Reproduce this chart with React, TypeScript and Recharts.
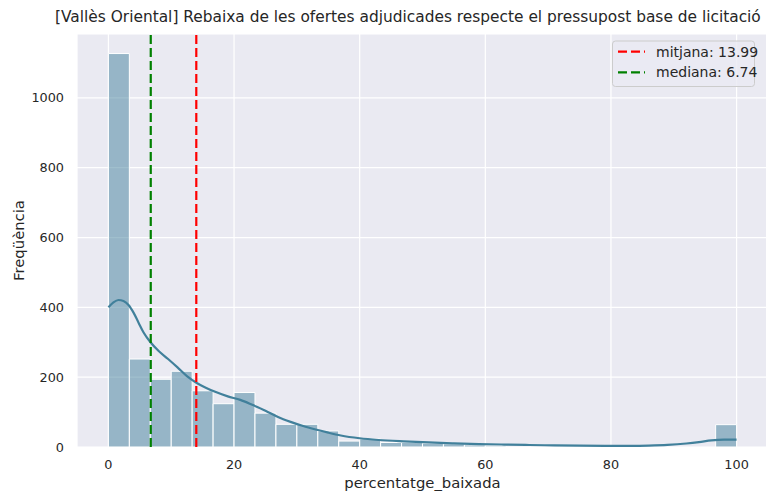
import React from "react";
import {
  ComposedChart,
  XAxis,
  YAxis,
  CartesianGrid,
  Line,
  ReferenceArea,
  ReferenceLine,
  Label,
} from "recharts";

// Histogram bin edges (30 bins over 0..100)
const binEdges = [
  0, 3.333, 6.667, 10, 13.333, 16.667, 20, 23.333, 26.667, 30, 33.333, 36.667,
  40, 43.333, 46.667, 50, 53.333, 56.667, 60, 63.333, 66.667, 70, 73.333,
  76.667, 80, 83.333, 86.667, 90, 93.333, 96.667, 100,
];
// Counts per bin
const binCounts = [
  1127, 252, 194, 217, 161, 124, 156, 97, 65, 65, 46, 17, 23, 13, 13, 11, 9,
  6, 3, 0, 0, 0, 0, 0, 0, 0, 0, 0, 0, 64,
];

// KDE curve (scaled to counts)
const kdeX = [
  0, 0.8, 1.6, 2.4, 3.2, 4, 4.8, 5.6, 6.7, 8, 9.5, 11, 12.5, 14, 15.5, 17, 19,
  21, 23, 25, 27, 29, 31, 33, 35, 37, 40, 43, 47, 51, 55, 59, 63, 67, 71, 75,
  79, 83, 86, 89, 92, 94, 96, 98, 100,
];
const kdeY = [
  400, 414, 421, 418, 407, 385, 356, 328, 300, 275, 252, 228, 203, 184, 170,
  158, 145, 135, 120, 104, 86, 72, 60, 50, 41, 33, 25, 20, 16, 13, 10.5, 8.5,
  7, 5.7, 4.6, 3.8, 3.4, 3.5, 4.2, 6, 10, 14, 19, 21, 21,
];

const meanValue = 13.99;
const medianValue = 6.74;

const xTicks = [0, 20, 40, 60, 80, 100];
const yTicks = [0, 200, 400, 600, 800, 1000];

const TITLE =
  "[Vallès Oriental] Rebaixa de les ofertes adjudicades respecte el pressupost base de licitació";
const X_LABEL = "percentatge_baixada";
const Y_LABEL = "Freqüència";
const MEAN_LABEL = "mitjana: " + meanValue.toFixed(2);
const MEDIAN_LABEL = "mediana: " + medianValue.toFixed(2);

const kdeData = kdeX.map((x, i) => ({ x, y: kdeY[i] }));
const bins = binCounts.map((c, i) => ({
  x1: binEdges[i],
  x2: binEdges[i + 1],
  count: c,
}));

const FONT = "'DejaVu Sans', sans-serif";
const TEXT = "#262626";
const LINE_COLOR = "#41809b";

export default function App() {
  return (
    <div
      style={{
        position: "absolute",
        left: 0,
        top: 0,
        width: 766,
        height: 493,
        overflow: "hidden",
        background: "#ffffff",
      }}
    >
      <ComposedChart
        width={770}
        height={493}
        data={kdeData}
        margin={{ top: 34, right: 2, bottom: 0, left: 0 }}
      >
        <CartesianGrid
          fill="#eaeaf2"
          fillOpacity={1}
          stroke="#ffffff"
          strokeWidth={1.2}
        />
        <XAxis
          dataKey="x"
          type="number"
          domain={[-5, 105]}
          ticks={xTicks}
          allowDataOverflow
          axisLine={false}
          tickLine={false}
          tickSize={0}
          tickMargin={13}
          height={46}
          tick={{ fill: TEXT, fontSize: 12.8, fontFamily: FONT }}
        >
          <Label
            value={X_LABEL}
            position="insideBottom"
            offset={5}
            fill={TEXT}
            fontSize={14.8}
            fontFamily={FONT}
          />
        </XAxis>
        <YAxis
          type="number"
          domain={[0, 1183]}
          ticks={yTicks}
          allowDataOverflow
          axisLine={false}
          tickLine={false}
          tickSize={0}
          tickMargin={13}
          width={77}
          tick={{ fill: TEXT, fontSize: 12.8, fontFamily: FONT }}
        >
          <Label
            content={(props: any) => {
              const vb = props.viewBox || { y: 34, height: 413 };
              const cy = vb.y + vb.height / 2;
              return (
                <text
                  x={18}
                  y={cy}
                  transform={`rotate(-90 18 ${cy})`}
                  textAnchor="middle"
                  dominantBaseline="central"
                  fill={TEXT}
                  fontSize={14.8}
                  fontFamily={FONT}
                >
                  {Y_LABEL}
                </text>
              );
            }}
          />
        </YAxis>
        {bins
          .filter((b) => b.count > 0)
          .map((b, i) => (
            <ReferenceArea
              key={i}
              x1={b.x1}
              x2={b.x2}
              y1={0}
              y2={b.count}
              fill={LINE_COLOR}
              fillOpacity={0.5}
              stroke="#ffffff"
              strokeWidth={1}
              strokeOpacity={1}
              ifOverflow="extendDomain"
            />
          ))}
        <Line
          dataKey="y"
          type="monotone"
          stroke={LINE_COLOR}
          strokeWidth={2.2}
          dot={false}
          activeDot={false}
          isAnimationActive={false}
        />
        <ReferenceLine
          x={meanValue}
          stroke="#ff0000"
          strokeWidth={2.2}
          strokeDasharray="9 4"
        />
        <ReferenceLine
          x={medianValue}
          stroke="#008000"
          strokeWidth={2.2}
          strokeDasharray="9 4"
        />
        <text
          x={55}
          y={22}
          textAnchor="start"
          fill={TEXT}
          fontSize={15.4}
          fontFamily={FONT}
        >
          {TITLE}
        </text>
        <g>
          <rect
            x={612.5}
            y={41}
            width={142}
            height={45.5}
            rx={3}
            ry={3}
            fill="#eaeaf2"
            fillOpacity={0.8}
            stroke="#cccccc"
            strokeWidth={1}
          />
          <line
            x1={618}
            y1={51.7}
            x2={645}
            y2={51.7}
            stroke="#ff0000"
            strokeWidth={2.2}
            strokeDasharray="9 4"
          />
          <text
            x={656}
            y={51.7}
            dominantBaseline="central"
            fill={TEXT}
            fontSize={14}
            fontFamily={FONT}
          >
            {MEAN_LABEL}
          </text>
          <line
            x1={618}
            y1={72.3}
            x2={645}
            y2={72.3}
            stroke="#008000"
            strokeWidth={2.2}
            strokeDasharray="9 4"
          />
          <text
            x={656}
            y={72.3}
            dominantBaseline="central"
            fill={TEXT}
            fontSize={14}
            fontFamily={FONT}
          >
            {MEDIAN_LABEL}
          </text>
        </g>
      </ComposedChart>
    </div>
  );
}
